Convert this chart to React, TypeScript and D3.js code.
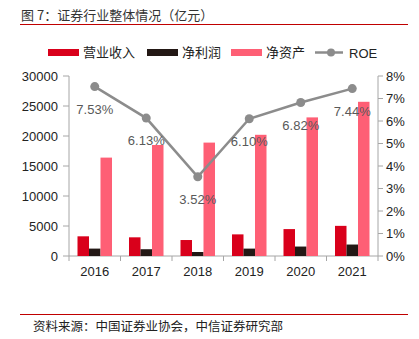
import React from "react";
import * as d3 from "d3";

const years = ["2016", "2017", "2018", "2019", "2020", "2021"];
const revenue = [3280, 3113, 2663, 3605, 4485, 5024];
const netProfit = [1234, 1130, 666, 1231, 1575, 1911];
const netAssets = [16400, 18500, 18900, 20200, 23100, 25700];
const roe = [7.53, 6.13, 3.52, 6.1, 6.82, 7.44];
const leftTicks = [0, 5000, 10000, 15000, 20000, 25000, 30000];
const rightTicks = [0, 1, 2, 3, 4, 5, 6, 7, 8];

const RED = "#d9001b";
const DARK = "#231815";
const PINK = "#fe5f75";
const GRAY = "#8c8c8c";
const AXIS = "#a6a6a6";
const FONT = "'Noto Sans CJK SC', 'Liberation Sans', Arial, sans-serif";
const NUMFONT = "'Liberation Sans', Arial, sans-serif";

export default function App() {
  const W = 419, H = 339;
  const left = 69, right = 378, top = 76, bottom = 256;
  const x = d3.scaleBand().domain(years).range([left, right]);
  const yL = d3.scaleLinear().domain([0, 30000]).range([bottom, top]);
  const yR = d3.scaleLinear().domain([0, 8]).range([bottom, top]);
  const barW = 11.5;
  const series = [
    { name: "营业收入", values: revenue, color: RED },
    { name: "净利润", values: netProfit, color: DARK },
    { name: "净资产", values: netAssets, color: PINK },
  ];
  const cx = (y: string) => (x(y) as number) + x.bandwidth() / 2;
  const line = d3
    .line<number>()
    .x((_, i) => cx(years[i]))
    .y((d) => yR(d));

  const legendItems = [
    { x: 48, label: "营业收入", color: RED, tx: 83 },
    { x: 147, label: "净利润", color: DARK, tx: 182 },
    { x: 231, label: "净资产", color: PINK, tx: 266 },
  ];

  return (
    <svg width={W} height={H} style={{ position: "absolute", left: 0, top: 0, background: "#fff" }}>
      <text x={21} y={20} fontFamily={FONT} fontSize={13} fill="#333">
        图 7：证券行业整体情况（亿元）
      </text>
      <line x1={20} x2={408} y1={24.5} y2={24.5} stroke="#c00000" strokeWidth={1} />

      {legendItems.map((l) => (
        <g key={l.label}>
          <rect x={l.x} y={49} width={31} height={7} fill={l.color} />
          <text x={l.tx} y={57} fontFamily={FONT} fontSize={13} fill="#222">
            {l.label}
          </text>
        </g>
      ))}
      <line x1={315} x2={343} y1={52.5} y2={52.5} stroke={GRAY} strokeWidth={2.5} />
      <circle cx={331} cy={52.5} r={4} fill={GRAY} />
      <text x={349} y={57.5} fontFamily={NUMFONT} fontSize={13} fill="#222">
        ROE
      </text>

      {/* left axis */}
      <line x1={left} x2={left} y1={top} y2={bottom} stroke={AXIS} />
      {leftTicks.map((t) => (
        <g key={t}>
          <line x1={left - 6} x2={left} y1={yL(t)} y2={yL(t)} stroke={AXIS} />
          <text x={58} y={yL(t) + 4.5} textAnchor="end" fontFamily={NUMFONT} fontSize={13} fill="#222">
            {t}
          </text>
        </g>
      ))}
      {/* right axis */}
      <line x1={right} x2={right} y1={top} y2={bottom} stroke={AXIS} />
      {rightTicks.map((t) => (
        <g key={t}>
          <line x1={right} x2={right + 5} y1={yR(t)} y2={yR(t)} stroke={AXIS} />
          <text x={386} y={yR(t) + 4.5} fontFamily={NUMFONT} fontSize={13} fill="#222">
            {t}%
          </text>
        </g>
      ))}
      {/* x axis */}
      <line x1={left} x2={right} y1={bottom} y2={bottom} stroke={AXIS} />
      {years.map((y, i) => (
        <line key={"t" + y} x1={x(y) as number} x2={x(y) as number} y1={bottom} y2={bottom + 5} stroke={AXIS} />
      ))}
      <line x1={right} x2={right} y1={bottom} y2={bottom + 5} stroke={AXIS} />
      {years.map((y) => (
        <text key={"l" + y} x={cx(y)} y={276} textAnchor="middle" fontFamily={NUMFONT} fontSize={13} fill="#222">
          {y}
        </text>
      ))}

      {/* bars */}
      {series.map((s, si) =>
        s.values.map((v, i) => (
          <rect
            key={s.name + i}
            x={cx(years[i]) - 1.5 * barW + si * barW}
            y={yL(v)}
            width={barW}
            height={bottom - yL(v)}
            fill={s.color}
          />
        ))
      )}

      {/* ROE line */}
      <path d={line(roe) || ""} fill="none" stroke={GRAY} strokeWidth={2.5} />
      {roe.map((v, i) => (
        <circle key={"c" + i} cx={cx(years[i])} cy={yR(v)} r={4.5} fill={GRAY} />
      ))}
      {roe.map((v, i) => (
        <text
          key={"r" + i}
          x={cx(years[i])}
          y={yR(v) + 27}
          textAnchor="middle"
          fontFamily={NUMFONT}
          fontSize={13}
          fill="#595959"
        >
          {v.toFixed(2)}%
        </text>
      ))}

      <line x1={20} x2={408} y1={314.5} y2={314.5} stroke="#c00000" strokeWidth={1} />
      <text x={33} y={331} fontFamily={FONT} fontSize={12.5} fill="#222">
        资料来源：中国证券业协会，中信证券研究部
      </text>
    </svg>
  );
}
